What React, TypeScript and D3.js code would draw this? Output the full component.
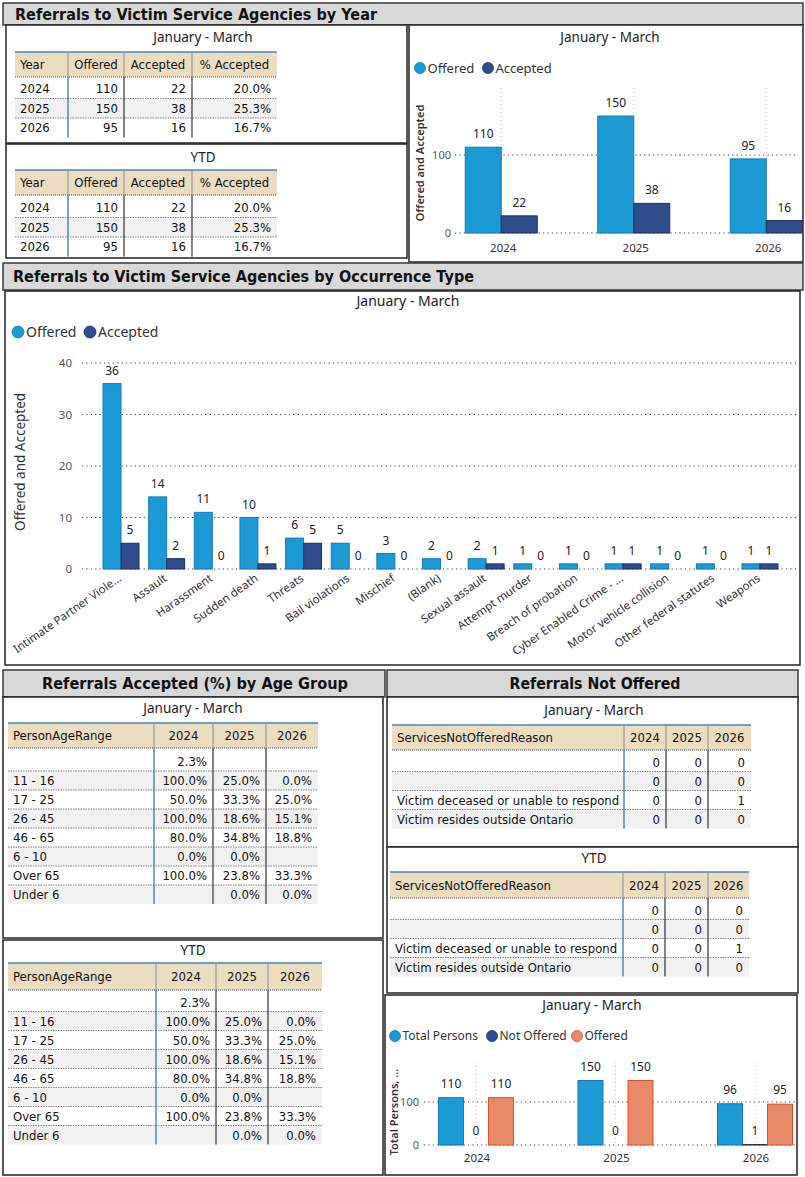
import React from 'react';
import * as d3 from 'd3';

const W = 805;
const H = 1177;

// ---------- DATA ----------
const years = ['2024', '2025', '2026'];
const offeredByYear = [110, 150, 95];
const acceptedByYear = [22, 38, 16];
const pctAcceptedByYear = ['20.0%', '25.3%', '16.7%'];
const ytdOfferedByYear = [110, 150, 95];
const ytdAcceptedByYear = [22, 38, 16];
const ytdPctAcceptedByYear = ['20.0%', '25.3%', '16.7%'];

const occurrenceTypes = [
  'Intimate Partner Viole...', 'Assault', 'Harassment', 'Sudden death', 'Threats',
  'Bail violations', 'Mischief', '(Blank)', 'Sexual assault', 'Attempt murder',
  'Breach of probation', 'Cyber Enabled Crime - ...', 'Motor vehicle collision',
  'Other federal statutes', 'Weapons',
];
const occOffered = [36, 14, 11, 10, 6, 5, 3, 2, 2, 1, 1, 1, 1, 1, 1];
const occAccepted = [5, 2, 0, 1, 5, 0, 0, 0, 1, 0, 0, 1, 0, 0, 1];

const ageRanges = ['', '11 - 16', '17 - 25', '26 - 45', '46 - 65', '6 - 10', 'Over 65', 'Under 6'];
const age2024 = ['2.3%', '100.0%', '50.0%', '100.0%', '80.0%', '0.0%', '100.0%', ''];
const age2025 = ['', '25.0%', '33.3%', '18.6%', '34.8%', '0.0%', '23.8%', '0.0%'];
const age2026 = ['', '0.0%', '25.0%', '15.1%', '18.8%', '', '33.3%', '0.0%'];

const notOfferedReasons = ['', '', 'Victim deceased or unable to respond', 'Victim resides outside Ontario'];
const notOffered2024 = [0, 0, 0, 0];
const notOffered2025 = [0, 0, 0, 0];
const notOffered2026 = [0, 0, 1, 0];

const totalPersons = [110, 150, 96];
const notOfferedPersons = [0, 0, 1];
const offeredPersons = [110, 150, 95];

// ---------- STYLE ----------
const SANS = "'Noto Sans', 'Open Sans', sans-serif";
const TAB = "'DejaVu Sans Condensed', 'DejaVu Sans', sans-serif";
const BLUE = '#1b9ad6';
const BLUE_S = '#1679b6';
const NAVY = '#2f4d8c';
const NAVY_S = '#1c2f60';
const ORANGE = '#ea8966';
const ORANGE_S = '#d8522a';
const BEIGE = '#ecdcc0';

function SectionHeader(props: { x: number; y: number; w: number; h: number; text: string; tx: number; anchor: 'start' | 'middle'; tl: number }) {
  const { x, y, w, h, text, tx, anchor, tl } = props;
  return (
    <g>
      <rect x={x} y={y} width={w} height={h} fill="#d8d8d8" stroke="#3a3a3a" strokeWidth={1.5} />
      <text x={tx} y={y + h / 2 + 5.5} textAnchor={anchor} fontFamily="'DejaVu Sans', sans-serif" fontWeight="bold"
        fontSize={16} fill="#111" textLength={tl} lengthAdjust="spacingAndGlyphs">{text}</text>
    </g>
  );
}

function Panel(props: { x: number; y: number; w: number; h: number }) {
  return <rect x={props.x} y={props.y} width={props.w} height={props.h} fill="#fff" stroke="#222" strokeWidth={1.5} />;
}

function Table(props: {
  headerTop: number; headerBottom: number; rowTop: number; rh: number;
  cols: number[]; headers: string[]; rows: string[][]; fontSize?: number;
}) {
  const { headerTop, headerBottom, rowTop, rh, cols, headers, rows } = props;
  const fs = props.fontSize ?? 13;
  const x0 = cols[0];
  const x1 = cols[cols.length - 1];
  const bottom = rowTop + rows.length * rh;
  return (
    <g fontFamily={TAB} fontSize={fs} fill="#111">
      <rect x={x0} y={headerTop} width={x1 - x0} height={headerBottom - headerTop} fill={BEIGE} />
      <line x1={x0} x2={x1} y1={headerTop} y2={headerTop} stroke="#4a86b8" strokeWidth={1.5} />
      <line x1={x0} x2={x1} y1={headerBottom} y2={headerBottom} stroke="#444" strokeWidth={1} strokeDasharray="1 1" />
      {rows.map((r, i) => (
        <rect key={'bg' + i} x={x0} y={rowTop + i * rh} width={x1 - x0} height={rh} fill={i % 2 === 1 ? '#f1f1f1' : '#fff'} />
      ))}
      {rows.slice(0, -1).map((r, i) => (
        <line key={'sep' + i} x1={x0} x2={x1} y1={rowTop + (i + 1) * rh} y2={rowTop + (i + 1) * rh}
          stroke="#666" strokeWidth={0.8} strokeDasharray="1.5 1" />
      ))}
      {cols.slice(1, -1).map((c, i) => (
        <g key={'vc' + i}>
          <line x1={c} x2={c} y1={headerTop + 1} y2={headerBottom} stroke="#888" strokeWidth={1} />
          <line x1={c} x2={c} y1={headerBottom} y2={bottom} stroke={i === 0 ? '#2a6aa5' : '#333'} strokeWidth={1.2} />
        </g>
      ))}
      {headers.map((h, i) => (
        <text key={'h' + i} x={i === 0 ? cols[0] + 5 : (cols[i] + cols[i + 1]) / 2}
          y={(headerTop + headerBottom) / 2 + fs * 0.36} textAnchor={i === 0 ? 'start' : 'middle'}>{h}</text>
      ))}
      {rows.map((r, i) => r.map((cell, j) => (
        <text key={'c' + i + '-' + j} x={j === 0 ? cols[0] + 5 : cols[j + 1] - 6}
          y={rowTop + i * rh + rh / 2 + fs * 0.36} textAnchor={j === 0 ? 'start' : 'end'}>{cell}</text>
      )))}
    </g>
  );
}

type Series = { name: string; values: number[]; fill: string; stroke: string };
type ChartProps = {
  categories: string[];
  series: Series[];
  xRange: [number, number];
  groupWidth: number;
  yDomain: [number, number];
  yRange: [number, number];
  ticks: number[];
  gridX: [number, number];
  tickX: number;
  tickSize: number;
  yTitle: string; yTitleX: number; yTitleY: number; yTitleSize: number; yTitleWeight: number;
  title: string; titleX: number; titleY: number; titleSize: number;
  legendY: number; legendXs: number[]; legendSize: number; legendR: number;
  catY: number; catRotate: number; catSize: number; catDx: number;
  valueSize: number; valueOffset: number;
  vGridTop?: number;
};

function GroupedBarChart(p: ChartProps) {
  const x = d3.scaleBand<string>().domain(p.categories).range(p.xRange).padding(0);
  const inner = d3.scaleBand<string>().domain(p.series.map((s) => s.name))
    .range([-p.groupWidth / 2, p.groupWidth / 2]).padding(0);
  const y = d3.scaleLinear().domain(p.yDomain).range(p.yRange);
  const center = (c: string) => (x(c) ?? 0) + x.bandwidth() / 2;
  return (
    <g fontFamily={SANS}>
      <text x={p.titleX} y={p.titleY + p.titleSize * 0.36} textAnchor="middle" fontSize={p.titleSize} fill="#222">{p.title}</text>
      {p.series.map((s, i) => (
        <g key={'lg' + i}>
          <circle cx={p.legendXs[i]} cy={p.legendY} r={p.legendR} fill={s.fill} stroke={s.stroke} strokeWidth={0.8} />
          <text x={p.legendXs[i] + p.legendR + 2} y={p.legendY + p.legendSize * 0.36} fontSize={p.legendSize} fill="#333">{s.name}</text>
        </g>
      ))}
      <text transform={`translate(${p.yTitleX},${p.yTitleY}) rotate(-90)`} textAnchor="middle" fontSize={p.yTitleSize}
        fontWeight={p.yTitleWeight} fill="#333" dy={p.yTitleSize * 0.36}>{p.yTitle}</text>
      {p.vGridTop !== undefined && p.categories.map((c) => (
        <line key={'vg' + c} x1={center(c)} x2={center(c)} y1={p.vGridTop} y2={y(0)} stroke="#c4c4c4"
          strokeWidth={1} strokeDasharray="1 3" />
      ))}
      {p.ticks.map((t) => (
        <g key={'t' + t}>
          <line x1={p.gridX[0]} x2={p.gridX[1]} y1={y(t)} y2={y(t)} stroke="#444" strokeWidth={1.2} strokeDasharray="1.2 3.2" />
          <text x={p.tickX} y={y(t) + p.tickSize * 0.36} textAnchor="end" fontSize={p.tickSize} fill="#555">{t}</text>
        </g>
      ))}
      {p.series.map((s) => (
        <g key={'s' + s.name}>
          {p.categories.map((c, i) => {
            const v = s.values[i];
            const bx = center(c) + (inner(s.name) ?? 0);
            const top = y(v);
            const h = y(0) - top;
            return (
              <g key={c}>
                {h > 0 && (
                  <rect x={bx} y={top} width={inner.bandwidth()} height={h} fill={s.fill} stroke={s.stroke} strokeWidth={1} />
                )}
                <text x={bx + inner.bandwidth() / 2} y={top - p.valueOffset} textAnchor="middle" fontSize={p.valueSize}
                  fill="#222">{v}</text>
              </g>
            );
          })}
        </g>
      ))}
      {p.categories.map((c) => (
        p.catRotate !== 0 ? (
          <text key={'cl' + c} transform={`translate(${center(c) + p.catDx},${p.catY}) rotate(${p.catRotate})`}
            textAnchor="end" fontSize={p.catSize} fill="#333">{c}</text>
        ) : (
          <text key={'cl' + c} x={center(c) + p.catDx} y={p.catY} textAnchor="middle" fontSize={p.catSize} fill="#333">{c}</text>
        )
      ))}
    </g>
  );
}

export default function App() {
  const yearRows = years.map((yr, i) => [yr, String(offeredByYear[i]), String(acceptedByYear[i]), pctAcceptedByYear[i]]);
  const ytdRows = years.map((yr, i) => [yr, String(ytdOfferedByYear[i]), String(ytdAcceptedByYear[i]), ytdPctAcceptedByYear[i]]);
  const ageRows = ageRanges.map((a, i) => [a, age2024[i], age2025[i], age2026[i]]);
  const notOffRows = notOfferedReasons.map((r, i) => [r, String(notOffered2024[i]), String(notOffered2025[i]), String(notOffered2026[i])]);
  const yearHeaders = ['Year', 'Offered', 'Accepted', '% Accepted'];
  const ageHeaders = ['PersonAgeRange', ...years];
  const notOffHeaders = ['ServicesNotOfferedReason', ...years];

  return (
    <div style={{ position: 'absolute', left: 0, top: 0, width: W, height: H, background: '#fff' }}>
      <svg width={W} height={H} viewBox={`0 0 ${W} ${H}`} style={{ display: 'block' }}>
        <rect x={0} y={0} width={W} height={H} fill="#fff" />

        {/* Section 1 */}
        <SectionHeader x={3} y={3} w={800} h={22} text="Referrals to Victim Service Agencies by Year" tx={15} anchor="start" tl={362} />
        <Panel x={6} y={25} w={401} h={118} />
        <text x={203} y={42} textAnchor="middle" fontFamily={SANS} fontSize={13.5} fill="#222">January - March</text>
        <Table headerTop={52} headerBottom={77} rowTop={79} rh={19.5} cols={[15, 68, 124, 192, 277]} headers={yearHeaders} rows={yearRows} />
        <Panel x={6} y={144} w={401} h={114} />
        <text x={203} y={162} textAnchor="middle" fontFamily={SANS} fontSize={13.5} fill="#222">YTD</text>
        <Table headerTop={170} headerBottom={195} rowTop={198} rh={19.5} cols={[15, 68, 124, 192, 277]} headers={yearHeaders} rows={ytdRows} />

        <Panel x={409} y={25} w={394} h={237} />
        <GroupedBarChart
          categories={years}
          series={[
            { name: 'Offered', values: offeredByYear, fill: BLUE, stroke: BLUE_S },
            { name: 'Accepted', values: acceptedByYear, fill: NAVY, stroke: NAVY_S },
          ]}
          xRange={[435, 832.5]} groupWidth={72}
          yDomain={[0, 100]} yRange={[233, 155]} ticks={[0, 100]} gridX={[455, 797]} tickX={451} tickSize={11}
          yTitle="Offered and Accepted" yTitleX={420} yTitleY={163} yTitleSize={11} yTitleWeight={600}
          title="January - March" titleX={610} titleY={37} titleSize={13.5}
          legendY={68} legendXs={[420, 488]} legendSize={13} legendR={5.5}
          catY={252} catRotate={0} catSize={11.5} catDx={2}
          valueSize={12} valueOffset={9} vGridTop={88}
        />

        {/* Section 2 */}
        <SectionHeader x={3} y={263} w={800} h={27} text="Referrals to Victim Service Agencies by Occurrence Type" tx={13} anchor="start" tl={461} />
        <Panel x={5} y={291} w={795} h={374} />
        <GroupedBarChart
          categories={occurrenceTypes}
          series={[
            { name: 'Offered', values: occOffered, fill: BLUE, stroke: BLUE_S },
            { name: 'Accepted', values: occAccepted, fill: NAVY, stroke: NAVY_S },
          ]}
          xRange={[98.2, 782.8]} groupWidth={36}
          yDomain={[0, 40]} yRange={[569, 363]} ticks={[0, 10, 20, 30, 40]} gridX={[82, 797]} tickX={72} tickSize={11.5}
          yTitle="Offered and Accepted" yTitleX={20} yTitleY={462} yTitleSize={13.5} yTitleWeight={400}
          title="January - March" titleX={408} titleY={301} titleSize={14}
          legendY={332} legendXs={[18, 90]} legendSize={14} legendR={6}
          catY={580} catRotate={-35} catSize={11.5} catDx={1}
          valueSize={12} valueOffset={9}
        />

        {/* Section 3 */}
        <SectionHeader x={3} y={670} w={382} h={27} text="Referrals Accepted (%) by Age Group" tx={195} anchor="middle" tl={306} />
        <Panel x={3} y={697} w={380} h={241} />
        <text x={193} y={713} textAnchor="middle" fontFamily={SANS} fontSize={13.5} fill="#222">January - March</text>
        <Table headerTop={723} headerBottom={748} rowTop={752} rh={19} cols={[8, 154, 213, 266, 318]} headers={ageHeaders} rows={ageRows} />
        <Panel x={3} y={940} w={380} h={235} />
        <text x={193} y={955} textAnchor="middle" fontFamily={SANS} fontSize={13.5} fill="#222">YTD</text>
        <Table headerTop={963} headerBottom={990} rowTop={992.5} rh={19} cols={[8, 156, 216, 268, 322]} headers={ageHeaders} rows={ageRows} />

        {/* Section 4 */}
        <SectionHeader x={387} y={670} w={411} h={27} text="Referrals Not Offered" tx={595} anchor="middle" tl={171} />
        <Panel x={387} y={697} w={411} h={150} />
        <text x={594} y={715} textAnchor="middle" fontFamily={SANS} fontSize={13.5} fill="#222">January - March</text>
        <Table headerTop={725} headerBottom={750} rowTop={752.5} rh={19} cols={[392, 624, 666, 708, 751]} headers={notOffHeaders} rows={notOffRows} />
        <Panel x={387} y={847} w={411} h={146} />
        <text x={594} y={863} textAnchor="middle" fontFamily={SANS} fontSize={13.5} fill="#222">YTD</text>
        <Table headerTop={872} headerBottom={898} rowTop={900.5} rh={19} cols={[390, 623, 665, 708, 749]} headers={notOffHeaders} rows={notOffRows} />

        <Panel x={385} y={995} w={412} h={180} />
        <GroupedBarChart
          categories={years}
          series={[
            { name: 'Total Persons', values: totalPersons, fill: BLUE, stroke: BLUE_S },
            { name: 'Not Offered', values: notOfferedPersons, fill: NAVY, stroke: NAVY_S },
            { name: 'Offered', values: offeredPersons, fill: ORANGE, stroke: ORANGE_S },
          ]}
          xRange={[406.25, 824.75]} groupWidth={75}
          yDomain={[0, 100]} yRange={[1145, 1102]} ticks={[0, 100]} gridX={[424, 795]} tickX={419} tickSize={11}
          yTitle="Total Persons, ..." yTitleX={394} yTitleY={1112} yTitleSize={11} yTitleWeight={600}
          title="January - March" titleX={592} titleY={1005} titleSize={13.5}
          legendY={1036} legendXs={[395, 492, 577]} legendSize={12} legendR={5.5}
          catY={1162} catRotate={0} catSize={11.5} catDx={1}
          valueSize={12} valueOffset={10} vGridTop={1062}
        />
      </svg>
    </div>
  );
}
